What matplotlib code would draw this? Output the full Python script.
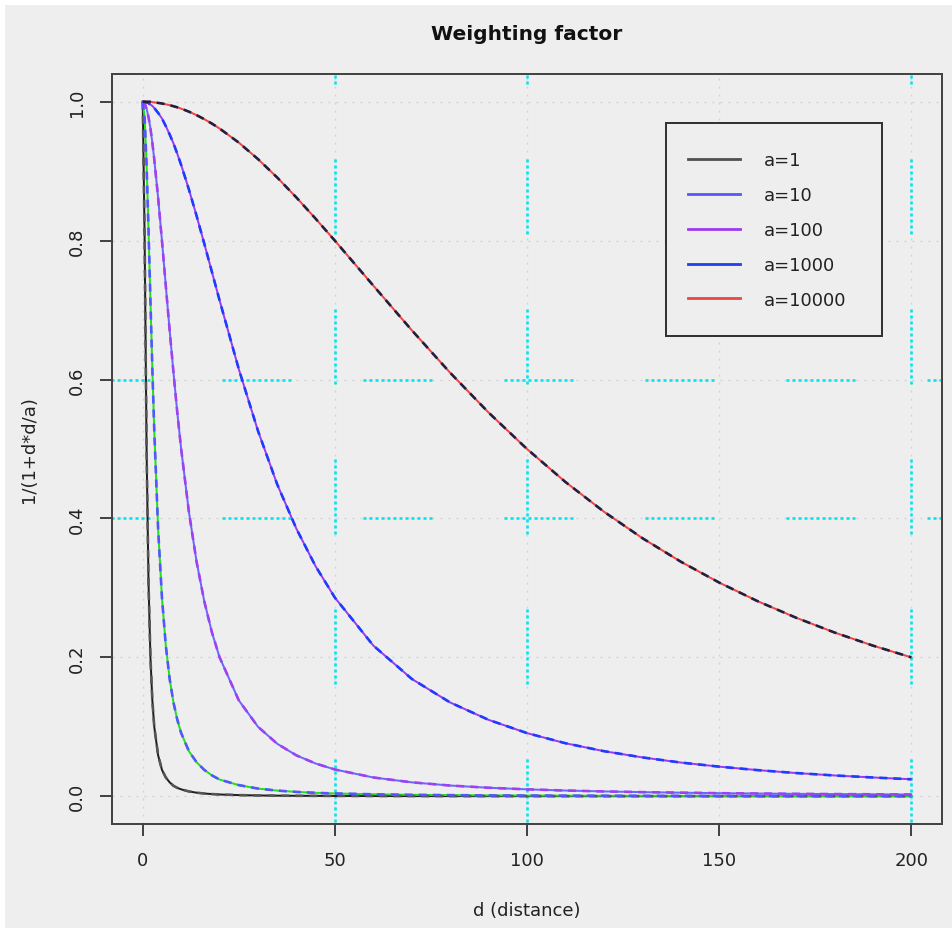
import numpy as np
import matplotlib
import matplotlib.pyplot as plt
from matplotlib.patches import Rectangle
matplotlib.use('Agg')

plt.rcParams['font.family'] = ['DejaVu Sans']
plt.rcParams['lines.scale_dashes'] = False

#%% values
d = [0, 0.5, 1, 1.5, 2, 2.5, 3, 4, 5, 6, 7, 8, 9, 10, 12, 14, 16, 18, 20, 25,
     30, 35, 40, 45, 50, 60, 70, 80, 90, 100, 110, 120, 130, 140, 150, 160,
     170, 180, 190, 200]

w_a1 = [1.0, 0.8, 0.5, 0.308, 0.2, 0.138, 0.1, 0.059, 0.038, 0.027, 0.02,
        0.015, 0.012, 0.0099, 0.0069, 0.0051, 0.0039, 0.0031, 0.0025, 0.0016,
        0.0011, 0.0008, 0.0006, 0.0005, 0.0004, 0.0003, 0.0002, 0.00016,
        0.00012, 0.0001, 0.00008, 0.00007, 0.00006, 0.00005, 0.00004,
        0.00004, 0.00003, 0.00003, 0.00003, 0.00002]
w_a10 = [1.0, 0.976, 0.909, 0.816, 0.714, 0.615, 0.526, 0.385, 0.286, 0.217,
         0.169, 0.135, 0.110, 0.091, 0.065, 0.049, 0.038, 0.030, 0.024, 0.016,
         0.011, 0.0081, 0.0062, 0.0049, 0.0040, 0.0028, 0.0020, 0.0016,
         0.0012, 0.0010, 0.00083, 0.00069, 0.00059, 0.00051, 0.00044,
         0.00039, 0.00035, 0.00031, 0.00028, 0.00025]
w_a100 = [1.0, 0.9975, 0.990, 0.978, 0.962, 0.941, 0.917, 0.862, 0.8, 0.735,
          0.671, 0.610, 0.552, 0.5, 0.410, 0.338, 0.281, 0.236, 0.2, 0.138,
          0.1, 0.0755, 0.0588, 0.0471, 0.0385, 0.0270, 0.0200, 0.0154, 0.0122,
          0.0099, 0.0082, 0.0069, 0.0059, 0.0051, 0.0044, 0.0039, 0.0034,
          0.0031, 0.0028, 0.0025]
w_a1000 = [1.0, 1.0, 0.999, 0.998, 0.996, 0.994, 0.991, 0.984, 0.976, 0.965,
           0.953, 0.940, 0.925, 0.909, 0.874, 0.836, 0.796, 0.755, 0.714,
           0.615, 0.526, 0.449, 0.385, 0.331, 0.286, 0.217, 0.169, 0.135,
           0.110, 0.0909, 0.0763, 0.0649, 0.0559, 0.0485, 0.0426, 0.0376,
           0.0334, 0.0299, 0.0270, 0.0244]
w_a10000 = [1.0, 1.0, 1.0, 1.0, 1.0, 0.9994, 0.9991, 0.9984, 0.9975, 0.9964,
            0.9951, 0.9936, 0.9920, 0.9901, 0.9858, 0.9808, 0.9750, 0.9686,
            0.9615, 0.9412, 0.9174, 0.8909, 0.8621, 0.8316, 0.8, 0.7353,
            0.6711, 0.6098, 0.5525, 0.5, 0.4525, 0.4098, 0.3717, 0.3378,
            0.3077, 0.2809, 0.2571, 0.2358, 0.2169, 0.2]

labels = ["a=1", "a=10", "a=100", "a=1000", "a=10000"]
series = [w_a1, w_a10, w_a100, w_a1000, w_a10000]

# colours: legend colour, solid line, dashed overlay
legend_cols = ['#505050', '#5858F8', '#9B3BF0', '#2040F0', '#E84848']
solid_cols = ['#202020', '#22DD22', '#6868FF', '#9B3BF0', '#EE4444']
dash_cols = ['#555555', '#5555FF', '#A040F0', '#1E3CFF', '#202040']

xticks = [0, 50, 100, 150, 200]
yticks = [0.0, 0.2, 0.4, 0.6, 0.8, 1.0]
cyan_x = [50, 100, 200]
cyan_y = [0.4, 0.6]

BG = '#EEEEEE'
PX = 0.72  # points per pixel at dpi=100
XLIM = (-8, 208)
YLIM = (-0.04, 1.04)

#%% figure
fig = plt.figure(figsize=(9.53, 9.29), dpi=100, facecolor='white')
fig.patches.append(Rectangle((5 / 953, 0), 1, 1 - 6 / 929, transform=fig.transFigure,
                             facecolor=BG, edgecolor='none', zorder=-10))
ax = fig.add_axes([112 / 953, 1 - 825 / 929, 830 / 953, 750 / 929])
ax.set_facecolor(BG)
ax.set_xlim(*XLIM)
ax.set_ylim(*YLIM)

# light grey dotted grid at the ticks
gdash = (0, [2 * PX, 6 * PX])
for xv in xticks:
    ax.axvline(xv, color='#D4D4D4', lw=1.4 * PX, linestyle=gdash, zorder=1)
for yv in yticks:
    ax.axhline(yv, color='#D4D4D4', lw=1.4 * PX, linestyle=gdash, zorder=1)

# cyan dotted reference lines (groups of dots)
hpat = [3 * PX, 3 * PX] * 11 + [3 * PX, 72 * PX]
vpat = [3 * PX, 3 * PX] * 12 + [3 * PX, 75 * PX]
for yv in cyan_y:
    ax.plot(XLIM, [yv, yv], color='#00E5EE', lw=2.6 * PX,
            linestyle=(31 * PX, hpat), zorder=2)
for xv in cyan_x:
    # drawn from top to bottom
    ax.plot([xv, xv], YLIM[::-1], color='#00E5EE', lw=2.6 * PX,
            linestyle=(65 * PX, vpat), zorder=2)

# curves
for i, vals in enumerate(series):
    ax.plot(d, vals, color=solid_cols[i], lw=2.0 * PX, zorder=3)
    ax.plot(d, vals, color=dash_cols[i], lw=2.6 * PX, zorder=4,
            linestyle=(0, [8 * PX, 6 * PX]))

# legend: box drawn separately, entries placed inside it
ax.add_patch(Rectangle((0.667, 0.651), 0.261, 0.284, transform=ax.transAxes,
                       facecolor=BG, edgecolor='#333333', lw=2 * PX, zorder=5))
handles = [plt.Line2D([], [], color=legend_cols[i], lw=2.8 * PX) for i in range(5)]
leg = ax.legend(handles, labels, loc='upper left', bbox_to_anchor=(0.694, 0.8967),
                fontsize=13, frameon=False, borderpad=0, labelspacing=0.93,
                handlelength=2.9, handletextpad=1.3, borderaxespad=0)
leg.set_zorder(6)
for t in leg.get_texts():
    t.set_color('#222222')

# axes styling (R look)
for sp in ax.spines.values():
    sp.set_color('#444444')
    sp.set_linewidth(2 * PX)
ax.set_xticks(xticks)
ax.set_xticklabels([str(v) for v in xticks])
ax.set_yticks(yticks)
ax.set_yticklabels([f"{v:.1f}" for v in yticks], rotation=90, va='center')
ax.tick_params(direction='out', length=12 * PX, width=2 * PX, color='#444444',
               labelsize=13, labelcolor='#222222')
ax.tick_params(axis='x', pad=11)
ax.tick_params(axis='y', pad=10)

ax.set_title("Weighting factor", fontsize=14.5, fontweight='bold', color='#111111', pad=25)
ax.set_xlabel("d (distance)", fontsize=13, color='#222222', labelpad=23)
ax.set_ylabel("1/(1+d*d/a)", fontsize=13, color='#222222', labelpad=22)

fig.savefig('out.png', dpi=100, facecolor=fig.get_facecolor())
